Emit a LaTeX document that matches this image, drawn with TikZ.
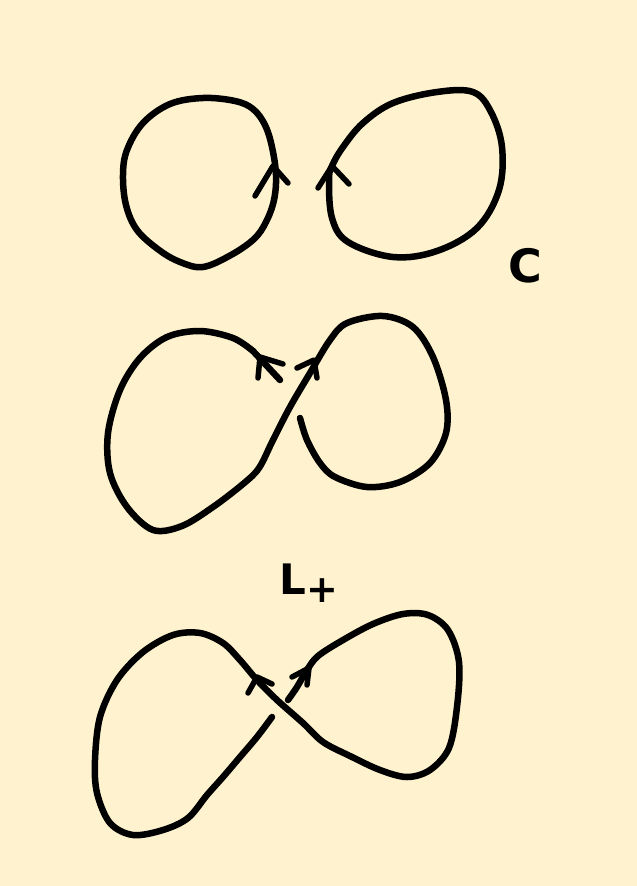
\documentclass[tikz,border=0pt]{standalone}
\usepackage{fontspec}
\setsansfont{DejaVu Sans}
\definecolor{paper}{RGB}{254,243,206}
\tikzset{
  ink/.style={line width=6.5pt, line cap=round, line join=round, black},
  head/.style={line width=5.5pt, line cap=round, line join=round, black},
  hand/.style={font=\sffamily\bfseries, text=black, inner sep=0pt}
}
\begin{document}
\begin{tikzpicture}[x=1pt,y=-1pt]
\fill[paper] (0,0) rectangle (637,886);
\useasboundingbox (0,0) rectangle (637,886);

% ---- top: two separate circles (C)
\draw[ink] plot[smooth cycle, tension=0.6] coordinates {
 (203,98) (235,101) (253,109) (265,125) (272,147) (276,175) (274,200)
 (266,222) (254,239) (231,255) (203,267) (180,262) (159,250) (137,230)
 (126,205) (123,175) (127,150) (143,123) (170,104)};
\draw[head] (255,196) -- (273,166) -- (288,183);

\draw[ink] plot[smooth cycle, tension=0.6] coordinates {
 (329,180) (332,218) (348,242) (393,257) (437,251) (477,228) (499,190)
 (502,147) (491,112) (473,92) (437,92) (393,103) (363,123) (343,147)
 (332,166)};
\draw[head] (318,188) -- (332,166) -- (349,184);

\node[hand, font=\sffamily\bfseries\fontsize{46}{46}\selectfont] (labC) at (525,266) {C};

% ---- middle: figure eight
\draw[ink] plot[smooth, tension=0.55] coordinates {
 (253,351) (233,338) (200,331) (167,337) (140,358) (120,390) (108,433)
 (110,473) (127,507) (153,530) (182,526) (213,507) (243,484) (259,468)
 (273,440) (290,407) (310,373) (330,340) (347,323) (383,316) (413,327)
 (433,357) (446,400) (446,433) (430,463) (400,482) (367,487) (335,477)
 (320,463) (307,440) (300,418)};
\draw[ink] (253,351) -- (280,380);
\draw[head] (283,364) -- (260,357) -- (258,378);
\draw[head] (297,368) -- (314,360) -- (317,378);

% ---- label L+
\node[hand, font=\sffamily\bfseries\fontsize{42}{42}\selectfont] (labL) at (309,583) {L\raisebox{-0.2em}{\fontsize{38}{38}\selectfont +}};

% ---- bottom: figure eight
\draw[ink] plot[smooth, tension=0.55] coordinates {
 (272,717) (257,737) (240,757) (223,777) (207,795) (188,818) (163,830)
 (133,835) (110,823) (97,793) (95,760) (100,717) (117,680) (143,652)
 (173,635) (200,633) (223,643) (240,660) (257,680) (277,700) (303,723)
 (323,742) (350,756) (380,770) (407,777) (430,770) (449,748) (457,707)
 (459,662) (448,630) (428,615) (403,614) (373,624) (343,640) (318,656)
 (307,670) (297,687) (288,700)};
\draw[head] (248,693) -- (257,677) -- (272,684);
\draw[head] (292,677) -- (309,668) -- (307,685);
\end{tikzpicture}
\end{document}
